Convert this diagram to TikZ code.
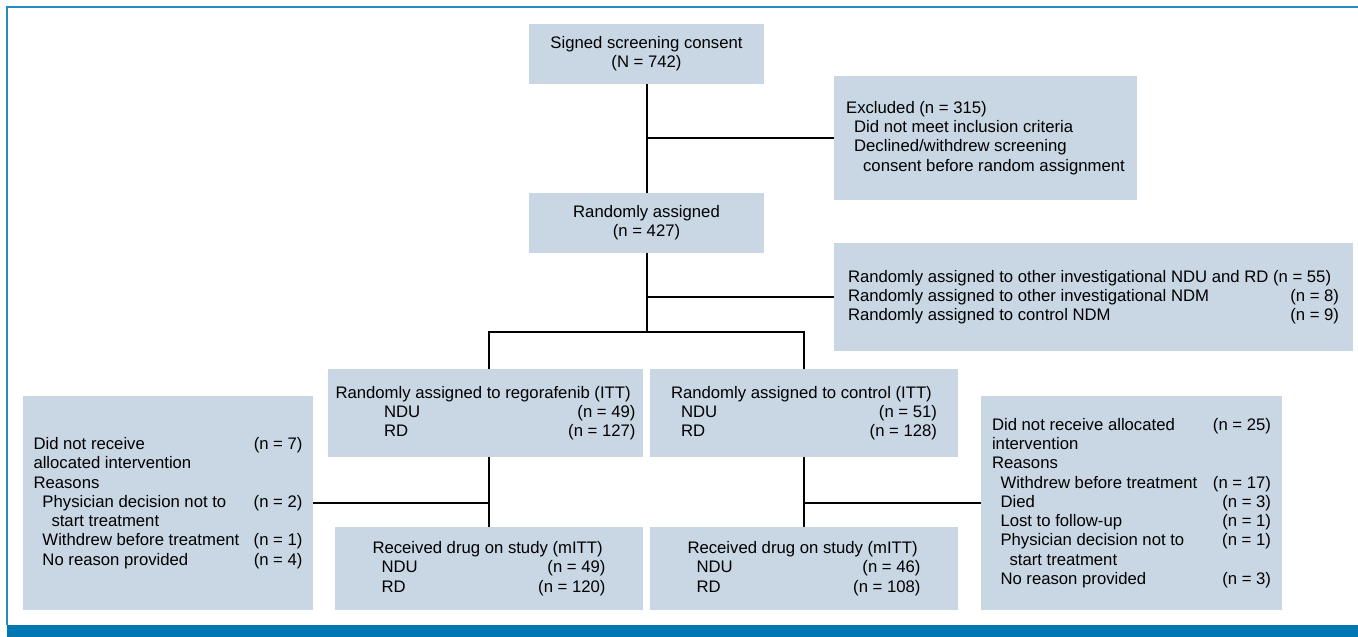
\documentclass[tikz,border=0pt]{standalone}
\usepackage{fontspec}
\setmainfont{Liberation Sans}
\usetikzlibrary{positioning}
\definecolor{boxfill}{RGB}{201,214,227}
\definecolor{frameblue}{RGB}{0,119,179}
% one line of a box: label on the left, count flush right
\newcommand{\nrow}[3]{\makebox[#1][l]{#2\hfill#3}}

\begin{document}
\begin{tikzpicture}[
    x=1pt, y=-1pt,
    box/.style={rectangle, fill=boxfill, inner sep=0pt, font=\fontsize{16.7}{19.3}\selectfont},
    centbox/.style={box, align=center, minimum width=235pt, minimum height=60pt},
    listbox/.style={box, align=left},
    link/.style={draw, line width=2pt}
]
\useasboundingbox (0,0) rectangle (1358,637);

% Frame
\draw [frameblue!85, line width=1.3pt] (1358,7) -- (7,7) -- (7,625);
\fill [frameblue] (7,624.5) rectangle (1358,637);

% Nodes
\node [centbox] (consent) at (646.5,54) {Signed screening consent\\(N = 742)};
\node [centbox] (random) at (646.5,223) {Randomly assigned\\(n = 427)};
\node [listbox, minimum width=303pt, minimum height=124pt] (excl) at (985.5,138)
  {Excluded (n = 315)\\
   \hspace*{8pt}Did not meet inclusion criteria\\
   \hspace*{8pt}Declined/withdrew screening\\
   \hspace*{17pt}consent before random assignment};
\node [listbox, minimum width=519pt, minimum height=108pt] (others) at (1093.5,297)
  {Randomly assigned to other investigational NDU and RD (n = 55)\\
   \nrow{491pt}{Randomly assigned to other investigational NDM}{(n = 8)}\\
   \nrow{491pt}{Randomly assigned to control NDM}{(n = 9)}};
\node [listbox, minimum width=315pt, minimum height=88pt] (regitt) at (485.5,413)
  {Randomly assigned to regorafenib (ITT)\\
   \nrow{300pt}{\hspace*{48.5pt}NDU}{(n = 49)}\\
   \nrow{300pt}{\hspace*{48.5pt}RD}{(n = 127)}};
\node [listbox, minimum width=308pt, minimum height=88pt] (ctlitt) at (804,413)
  {Randomly assigned to control (ITT)\\
   \nrow{266pt}{\hspace*{10pt}NDU}{(n = 51)}\\
   \nrow{266pt}{\hspace*{10pt}RD}{(n = 128)}};
\node [listbox, minimum width=308pt, minimum height=83pt] (regmitt) at (489,568.5)
  {Received drug on study (mITT)\\
   \nrow{233pt}{\hspace*{9pt}NDU}{(n = 49)}\\
   \nrow{233pt}{\hspace*{9pt}RD}{(n = 120)}};
\node [listbox, minimum width=308pt, minimum height=83pt] (ctlmitt) at (804,568.5)
  {Received drug on study (mITT)\\
   \nrow{233pt}{\hspace*{9pt}NDU}{(n = 46)}\\
   \nrow{233pt}{\hspace*{9pt}RD}{(n = 108)}};
\node [listbox, minimum width=290pt, minimum height=214pt] (regout) at (168,503)
  {\nrow{269pt}{Did not receive}{(n = 7)}\\
   allocated intervention\\
   Reasons\\
   \nrow{269pt}{\hspace*{9pt}Physician decision not to}{(n = 2)}\\
   \hspace*{18pt}start treatment\\
   \nrow{269pt}{\hspace*{9pt}Withdrew before treatment}{(n = 1)}\\
   \nrow{269pt}{\hspace*{9pt}No reason provided}{(n = 4)}};
\node [listbox, minimum width=301pt, minimum height=214pt] (ctlout) at (1131.5,503)
  {\nrow{279pt}{Did not receive allocated}{(n = 25)}\\
   intervention\\
   Reasons\\
   \nrow{279pt}{\hspace*{8.5pt}Withdrew before treatment}{(n = 17)}\\
   \nrow{279pt}{\hspace*{8.5pt}Died}{(n = 3)}\\
   \nrow{279pt}{\hspace*{8.5pt}Lost to follow-up}{(n = 1)}\\
   \nrow{279pt}{\hspace*{8.5pt}Physician decision not to}{(n = 1)}\\
   \hspace*{17.5pt}start treatment\\
   \nrow{279pt}{\hspace*{8.5pt}No reason provided}{(n = 3)}};
\coordinate (bus) at (646.5,332);

% Edges
\path [link] (consent) -- (random);
\path [link] (consent.south |- excl.west) -- (excl.west);
\path [link] (random) -- (bus);
\path [link] (random.south |- others.west) -- (others.west);
\path [link] (regmitt.north |- regitt.north) |- (bus) -| (ctlitt.north);
\path [link] (regmitt.north |- regitt.south) -- (regmitt.north);
\path [link] (ctlitt) -- (ctlmitt);
\path [link] (regout.east) -- (regout.east -| regmitt.north);
\path [link] (ctlout.west) -- (ctlout.west -| ctlmitt.north);

\end{tikzpicture}
\end{document}
